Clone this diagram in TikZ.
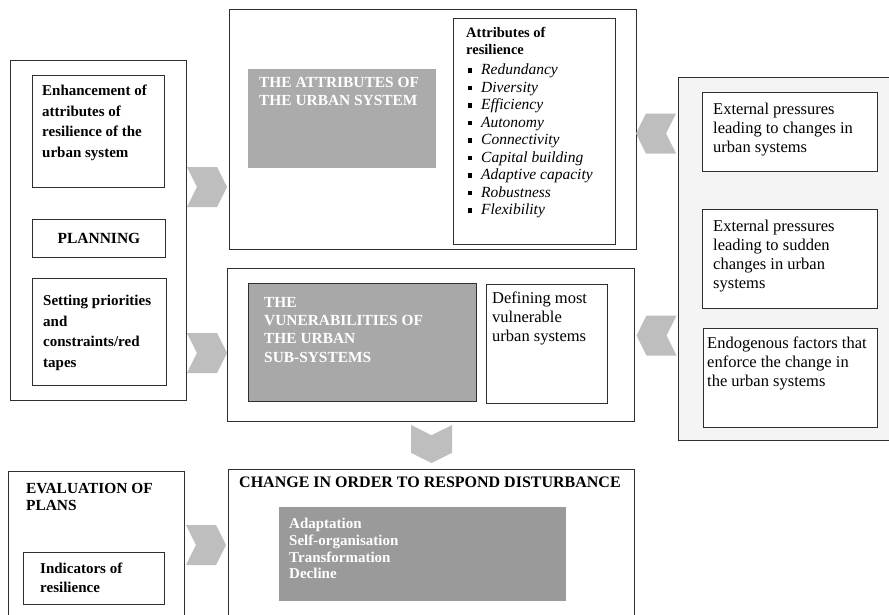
\documentclass[tikz,border=0pt]{standalone}
\usepackage{fontspec}
\setmainfont{Liberation Serif}
\usetikzlibrary{shapes.symbols}

\definecolor{chev}{HTML}{BEBEBE}
\definecolor{panel}{HTML}{F4F4F4}
\definecolor{grayA}{HTML}{ABABAB}
\definecolor{grayB}{HTML}{A8A8A8}
\definecolor{grayC}{HTML}{9A9A9A}
\definecolor{rule}{HTML}{2E2E2E}

\begin{document}
\begin{tikzpicture}[x=1pt, y=-1pt,
    box/.style={draw=rule, line width=0.9pt, anchor=north west, inner sep=0pt},
    shade/.style={anchor=north west, inner sep=0pt},
    txt/.style={anchor=north west, inner sep=0pt, align=left},
    btxt/.style={txt, font=\bfseries\fontsize{15}{20.5}\selectfont},
    rtxt/.style={txt, font=\fontsize{16.5}{19}\selectfont},
    wtxt/.style={txt, text=white, font=\bfseries\fontsize{15.4}{18.3}\selectfont},
    chevron/.style={signal, fill=chev, inner sep=0pt, signal pointer angle=127,
      signal from=west, signal to=east, minimum width=40pt, minimum height=40pt}]
  \useasboundingbox (0,0) rectangle (889,614);

  % planning column
  \node[box, minimum width=176pt, minimum height=340pt] (plan) at (10,60) {};
  \node[box, minimum width=132pt, minimum height=112pt] (enh) at (32,75) {};
  \node[btxt] (enhT) at (42,85) {Enhancement of\\attributes of\\resilience of the\\urban system};
  \node[box, minimum width=133pt, minimum height=38pt] (planning) at (32,219) {};
  \node[font=\bfseries\fontsize{15.5}{18}\selectfont] (planningT) at (planning.center) {PLANNING};
  \node[box, minimum width=134pt, minimum height=107pt] (prio) at (32,278) {};
  \node[btxt] (prioT) at (43,295) {Setting priorities\\and\\constraints/red\\tapes};

  % urban system
  \node[box, minimum width=407pt, minimum height=240pt] (urban) at (229,9) {};
  \node[shade, fill=grayA, minimum width=188pt, minimum height=99pt] (attr) at (248,69) {};
  \node[wtxt] (attrT) at (259,77) {THE ATTRIBUTES OF\\THE URBAN SYSTEM};
  \node[box, minimum width=162pt, minimum height=226pt] (resil) at (453,18) {};
  \node[txt, font=\bfseries\fontsize{14.5}{16.5}\selectfont] (resilT) at (466,27.5) {Attributes of\\resilience};
  \foreach \a [count=\i] in {Redundancy, Diversity, Efficiency, Autonomy, Connectivity,
      Capital building, Adaptive capacity, Robustness, Flexibility} {
    \node[fill=black, inner sep=0pt, minimum size=4.5pt] (bul\i) at (470,53.2+\i*17.5) {};
    \node[anchor=base west, inner sep=0pt, font=\itshape\fontsize{15.5}{17.5}\selectfont]
      (item\i) at (481,57+\i*17.5) {\a};
  }

  % vulnerabilities
  \node[box, minimum width=407pt, minimum height=153pt] (vuln) at (227,268) {};
  \node[box, fill=grayB, minimum width=228pt, minimum height=118pt] (sub) at (248,283) {};
  \node[wtxt] (subT) at (264,297) {THE\\VUNERABILITIES OF\\THE URBAN\\SUB-SYSTEMS};
  \node[box, minimum width=121pt, minimum height=119pt] (defin) at (486,284) {};
  \node[rtxt] (definT) at (492,292) {Defining most\\vulnerable\\urban systems};

  % pressures
  \node[box, fill=panel, minimum width=222pt, minimum height=363pt] (press) at (678,77) {};
  \node[box, fill=white, minimum width=175pt, minimum height=79pt] (ext1) at (702,92) {};
  \node[rtxt] (ext1T) at (713,103) {External pressures\\leading to changes in\\urban systems};
  \node[box, fill=white, minimum width=175pt, minimum height=99pt] (ext2) at (702,209) {};
  \node[rtxt] (ext2T) at (713,220) {External pressures\\leading to sudden\\changes in urban\\systems};
  \node[box, fill=white, minimum width=174pt, minimum height=99pt] (endo) at (703,328) {};
  \node[rtxt] (endoT) at (707,337) {Endogenous factors that\\enforce the change in\\the urban systems};

  % evaluation and change
  \node[box, minimum width=176pt, minimum height=160pt] (eval) at (8,471) {};
  \node[txt, font=\bfseries\fontsize{15.4}{17.3}\selectfont] (evalT) at (26,483) {EVALUATION OF\\PLANS};
  \node[box, minimum width=141pt, minimum height=52pt] (indic) at (23,552) {};
  \node[txt, font=\bfseries\fontsize{15}{18.3}\selectfont] (indicT) at (40,563) {Indicators of\\resilience};
  \node[box, minimum width=406pt, minimum height=160pt] (change) at (228,469) {};
  \node[txt, font=\bfseries\fontsize{16}{19}\selectfont] (changeT) at (239,477) {CHANGE IN ORDER TO RESPOND DISTURBANCE};
  \node[shade, fill=grayC, minimum width=287pt, minimum height=94pt] (resp) at (279,507) {};
  \node[wtxt, font=\bfseries\fontsize{15}{16.7}\selectfont] (respT) at (289,518)
    {Adaptation\\Self-organisation\\Transformation\\Decline};

  % chevrons
  \node[chevron] (r1) at (207,187) {};
  \node[chevron] (r2) at (207,353) {};
  \node[chevron] (r3) at (206,545) {};
  \node[chevron, rotate=180] (l1) at (656,133.5) {};
  \node[chevron, rotate=180] (l2) at (656.5,335.5) {};
  \node[chevron, rotate=-90, minimum width=38pt, minimum height=41pt] (d1) at (431.5,444) {};
\end{tikzpicture}
\end{document}
